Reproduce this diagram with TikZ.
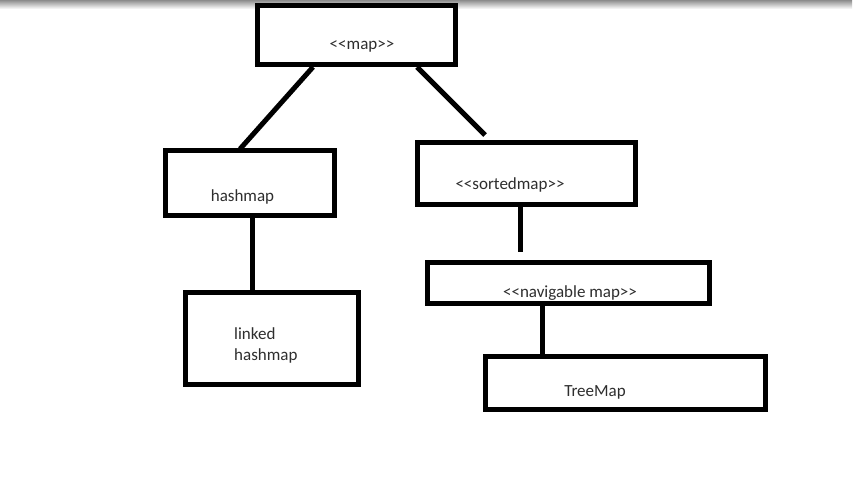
\documentclass[tikz,border=0pt]{standalone}
\usepackage{fontspec}
\setmainfont{Carlito}[Ligatures=TeXOff]
\begin{document}
\begin{tikzpicture}[x=1pt,y=-1pt,
  boxst/.style={draw=black,line width=5pt,fill=white,inner sep=0pt},
  lbl/.style={text=black!82,font=\fontsize{17}{21}\selectfont,inner sep=0pt},
  conn/.style={line width=5pt,draw=black}]
\useasboundingbox (0,0) rectangle (858,478);
\fill[white] (0,0) rectangle (858,478);
\shade[top color=black!45,bottom color=white] (0,0) rectangle (852,9);
% boxes
\node[boxst,minimum width=198pt,minimum height=59pt] (map) at (356,35.5) {};
\node[boxst,minimum width=169pt,minimum height=65pt] (hash) at (249.5,183.5) {};
\node[boxst,minimum width=218pt,minimum height=62pt] (sorted) at (526,174) {};
\node[boxst,minimum width=282pt,minimum height=41pt] (nav) at (568,282.5) {};
\node[boxst,minimum width=173pt,minimum height=92pt] (linked) at (271.5,338) {};
\node[boxst,minimum width=280pt,minimum height=53pt] (tree) at (625,382.5) {};
% labels
\node[lbl] (tmap) at (362,46) {<<map>>};
\node[lbl] (thash) at (242.5,197) {hashmap};
\node[lbl] (tsorted) at (510,185) {<<sortedmap>>};
\node[lbl] (tnav) at (570,293) {<<navigable map>>};
\node[lbl,align=left,anchor=west] (tlinked) at (234,345) {linked\\hashmap};
\node[lbl] (ttree) at (595,392) {TreeMap};
% connectors
\coordinate (mapL) at (313,67);
\coordinate (hashT) at (240,149);
\coordinate (mapR) at (417,67);
\coordinate (sortEnd) at (485,135);
\coordinate (sortB) at (520,207);
\coordinate (navEnd) at (520,252);
\coordinate (hashB) at (252,218);
\coordinate (linkedT) at (252,295);
\coordinate (navB) at (542,305);
\coordinate (treeT) at (542,356);
\draw[conn] (mapL) -- (hashT);
\draw[conn] (mapR) -- (sortEnd);
\draw[conn] (sortB) -- (navEnd);
\draw[conn] (hashB) -- (linkedT);
\draw[conn] (navB) -- (treeT);
\end{tikzpicture}
\end{document}
